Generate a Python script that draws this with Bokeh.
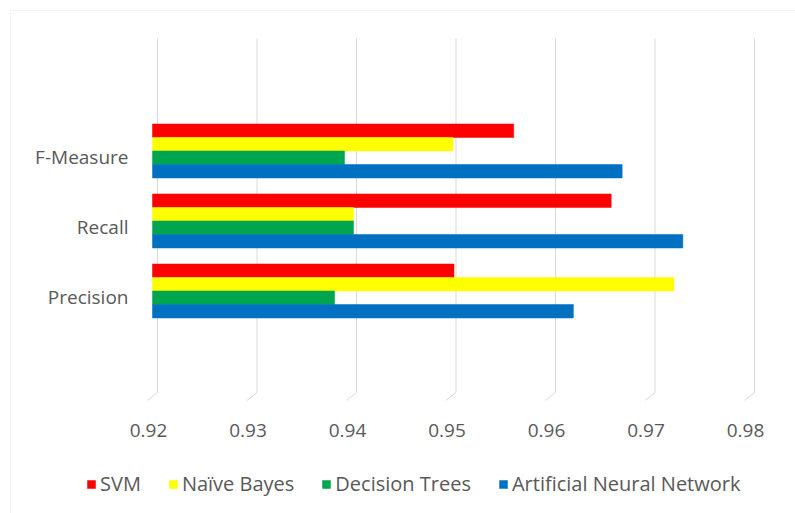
from bokeh.plotting import figure
from bokeh.models import Range1d, Legend, LegendItem, BoxAnnotation, ColumnDataSource
from bokeh.core.properties import value
from bokeh.embed import file_html
from bokeh.resources import INLINE

# ---- data ----
categories = ["Precision", "Recall", "F-Measure"]
series_names = ["SVM", "Naïve Bayes", "Decision Trees", "Artificial Neural Network"]
svm = [0.9503, 0.9661, 0.9563]
naive_bayes = [0.9724, 0.9402, 0.9502]
decision_trees = [0.9383, 0.9402, 0.9393]
ann = [0.9623, 0.9733, 0.9672]
x_ticks = [0.92, 0.93, 0.94, 0.95, 0.96, 0.97, 0.98]
x_tick_labels = ["0.92", "0.93", "0.94", "0.95", "0.96", "0.97", "0.98"]

series_values = [svm, naive_bayes, decision_trees, ann]
colors = ["#FF0000", "#FFFF00", "#00A550", "#0070C0"]

FONT = "Open Sans"
TXT = "#595959"
GRID = "#D9D9D9"

# ---- layout geometry (pixels) ----
W, H = 795, 513
PL, PR = 152, 749          # pixel x of axis start / end value
PT, PB = 38, 392           # plot area top / bottom pixels
UNIT_PX = 70.0             # pixels per category step
XMIN, XMAX = x_ticks[0], x_ticks[-1]
sx = (XMAX - XMIN) / (PR - PL)   # data per px (x)
sy = 1.0 / UNIT_PX               # data per px (y)
Y_TOP = 3.693                    # data y at plot-area top
Y_BOT = Y_TOP - (PB - PT) * sy   # data y at plot-area bottom

x_range = Range1d(XMIN - PL * sx, XMAX + (W - PR) * sx)
y_range = Range1d(Y_BOT - (H - PB) * sy, Y_TOP + PT * sy)

p = figure(width=W, height=H, output_backend="svg", toolbar_location=None,
           x_range=x_range, y_range=y_range,
           x_axis_location=None, y_axis_location=None,
           min_border=0)
p.grid.visible = False
p.outline_line_color = None
p.background_fill_color = "white"
p.border_fill_color = "white"

# outer chart border
p.add_layout(BoxAnnotation(left=10, right=W + 20, top=10, bottom=H + 20,
                           left_units="canvas", right_units="canvas",
                           top_units="canvas", bottom_units="canvas",
                           fill_alpha=0, line_color=GRID, line_width=1))

# gridlines (back wall) with short floor ticks
depth = 5 * sx
p.segment(x0=[t + depth for t in x_ticks], y0=[Y_BOT] * len(x_ticks),
          x1=[t + depth for t in x_ticks], y1=[Y_TOP] * len(x_ticks),
          line_color=GRID, line_width=1)
p.segment(x0=[t + depth for t in x_ticks], y0=[Y_BOT] * len(x_ticks),
          x1=[t - depth for t in x_ticks], y1=[Y_BOT - 8 * sy] * len(x_ticks),
          line_color=GRID, line_width=1)

# bars
bar_h = 0.193
shift = 0.086
offsets = [1.5 * bar_h, 0.5 * bar_h, -0.5 * bar_h, -1.5 * bar_h]
base = list(range(len(categories)))

renderers = []
for vals, col, off in zip(series_values, colors, offsets):
    ys = [b + shift + off for b in base]
    r = p.hbar(y=ys, left=XMIN, right=vals, height=bar_h,
               fill_color=col, line_color=col, line_width=0.5)
    renderers.append(r)

# x tick labels
p.text(x=[t - 4 * sx for t in x_ticks], y=[Y_BOT - 38 * sy] * len(x_ticks), text=x_tick_labels,
       text_font=value(FONT), text_font_size="19px", text_color=TXT,
       text_align="center", text_baseline="middle")

# category labels
p.text(x=[XMIN - 24 * sx] * len(categories), y=base, text=categories,
       text_font=value(FONT), text_font_size="19px", text_color=TXT,
       text_align="right", text_baseline="middle")

legend = Legend(items=[LegendItem(label=n, renderers=[r]) for n, r in zip(series_names, renderers)],
                orientation="horizontal", location=(86, 16),
                label_text_font=FONT, label_text_font_size="20px", label_text_color=TXT,
                glyph_width=10, glyph_height=10, label_standoff=4, spacing=27,
                padding=0, margin=0, border_line_color=None, background_fill_alpha=0)
p.add_layout(legend, "center")

open("out.html", "w").write(file_html(p, INLINE))
